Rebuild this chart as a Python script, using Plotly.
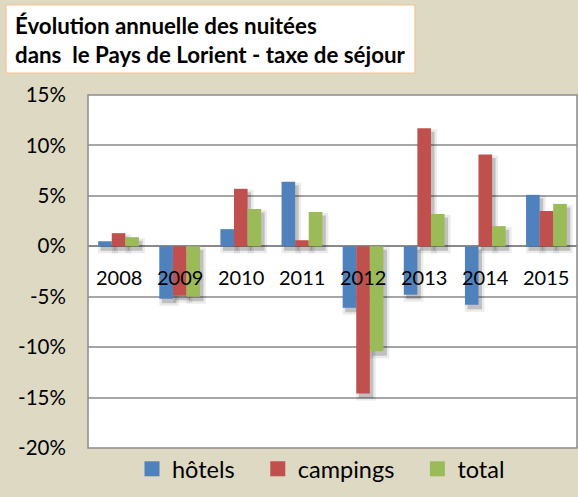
import plotly.graph_objects as go

# ---- data ----
years = ["2008", "2009", "2010", "2011", "2012", "2013", "2014", "2015"]
hotels = [0.5, -5.2, 1.7, 6.4, -6.1, -4.8, -5.8, 5.1]
campings = [1.3, -4.9, 5.7, 0.6, -14.6, 11.7, 9.1, 3.5]
total = [0.9, -5.0, 3.7, 3.4, -10.4, 3.2, 2.0, 4.2]
series_names = ["hôtels", "campings", "total"]
series_colors = ["#4F81BD", "#C0504D", "#9BBB59"]
y_ticks = [-20, -15, -10, -5, 0, 5, 10, 15]
y_tick_labels = [f"{t}%" for t in y_ticks]
title_lines = ["Évolution annuelle des nuitées", "dans\u00a0 le Pays de Lorient - taxe de séjour"]

# ---- geometry ----
W, H = 578, 497
ML, MR, MT, MB = 88, 1, 95, 49
PW, PH = W - ML - MR, H - MT - MB
YMIN, YMAX = -20, 15
px_x = PW / len(years)          # px per category
px_y = PH / (YMAX - YMIN)       # px per percent
bw = 1 / 4.5                    # bar width (gap 150%)
FONT = "Lato, 'Open Sans', sans-serif"


def px2paper_x(p):
    return (p - ML) / PW


def px2paper_y(p):
    return (H - MB - p) / PH


fig = go.Figure()
series = [hotels, campings, total]

# shadows (drawn first)
for layer, (grow, alpha) in enumerate([(3.0, 0.08), (0.5, 0.18)]):
    for i, vals in enumerate(series):
        dx = 3 / px_x
        dy = 4 / px_y
        e = grow / px_y
        g = grow / px_x
        bases = [-dy - (e if v >= 0 else -e) for v in vals]
        ys = [v + (2 * e if v >= 0 else -2 * e) for v in vals]
        fig.add_trace(go.Bar(
            x=years, y=ys, base=bases,
            width=bw + 2 * g, offset=(i - 1.5) * bw + dx - g,
            marker=dict(color=f"rgba(0,0,0,{alpha})", line=dict(width=0)),
            showlegend=False, hoverinfo="skip",
        ))

for i, vals in enumerate(series):
    fig.add_trace(go.Bar(
        x=years, y=vals, name=series_names[i],
        width=bw, offset=(i - 1.5) * bw,
        marker=dict(color=series_colors[i], line=dict(width=0)),
        showlegend=False,
    ))

# legend entries (square swatches like the original)
for i, nm in enumerate(series_names):
    fig.add_trace(go.Scatter(
        x=[None], y=[None], mode="markers", name=nm + "\u00a0\u00a0\u00a0",
        marker=dict(symbol="square", size=15, color=series_colors[i]),
        showlegend=True, hoverinfo="skip",
    ))

# category labels on the zero line
for k, yr in enumerate(years):
    fig.add_annotation(x=k, y=0, xref="x", yref="y", text=yr, showarrow=False,
                       yanchor="middle", yshift=-31,
                       font=dict(family=FONT, size=20, color="black"))

# title box
fig.add_shape(type="rect", xref="paper", yref="paper",
              x0=px2paper_x(6), x1=px2paper_x(415), y0=px2paper_y(73), y1=px2paper_y(5),
              fillcolor="white", line=dict(color="#FAC08F", width=1.2), layer="above")
fig.add_annotation(xref="paper", yref="paper", x=px2paper_x(13), y=px2paper_y(40),
                   xanchor="left", yanchor="middle", align="left", showarrow=False,
                   text="<br>".join(title_lines),
                   font=dict(family=FONT, size=22.3, color="black", weight="bold"))

# plot border
fig.add_shape(type="rect", xref="paper", yref="paper", x0=0, x1=1, y0=0, y1=1,
              line=dict(color="#8C8C8C", width=1.5), layer="above")

fig.update_layout(
    width=W, height=H,
    margin=dict(l=ML, r=MR, t=MT, b=MB),
    paper_bgcolor="#DDD9C3", plot_bgcolor="white",
    barmode="overlay",
    font=dict(family=FONT, color="black"),
    xaxis=dict(type="category", range=[-0.5, len(years) - 0.5], showticklabels=False,
               showgrid=False, zeroline=False, ticks="", fixedrange=True),
    yaxis=dict(range=[YMIN, YMAX], tickvals=y_ticks, ticktext=y_tick_labels,
               ticks="outside", ticklen=17, tickcolor="rgba(0,0,0,0)",
               tickfont=dict(family=FONT, size=20.5, color="black"),
               showgrid=True, gridcolor="#A6A6A6", gridwidth=2, automargin=False,
               zeroline=True, zerolinecolor="#8A8A8A", zerolinewidth=2),
    legend=dict(orientation="h", x=px2paper_x(330), xanchor="center",
                y=px2paper_y(469), yanchor="middle", bgcolor="rgba(0,0,0,0)",
                font=dict(family=FONT, size=23.5, color="black"), traceorder="normal",
                itemsizing="trace"),
    showlegend=True,
)

fig.write_html("out.html", config={"displayModeBar": False},
               post_script="document.body.style.margin='0';document.body.style.overflow='hidden';")
